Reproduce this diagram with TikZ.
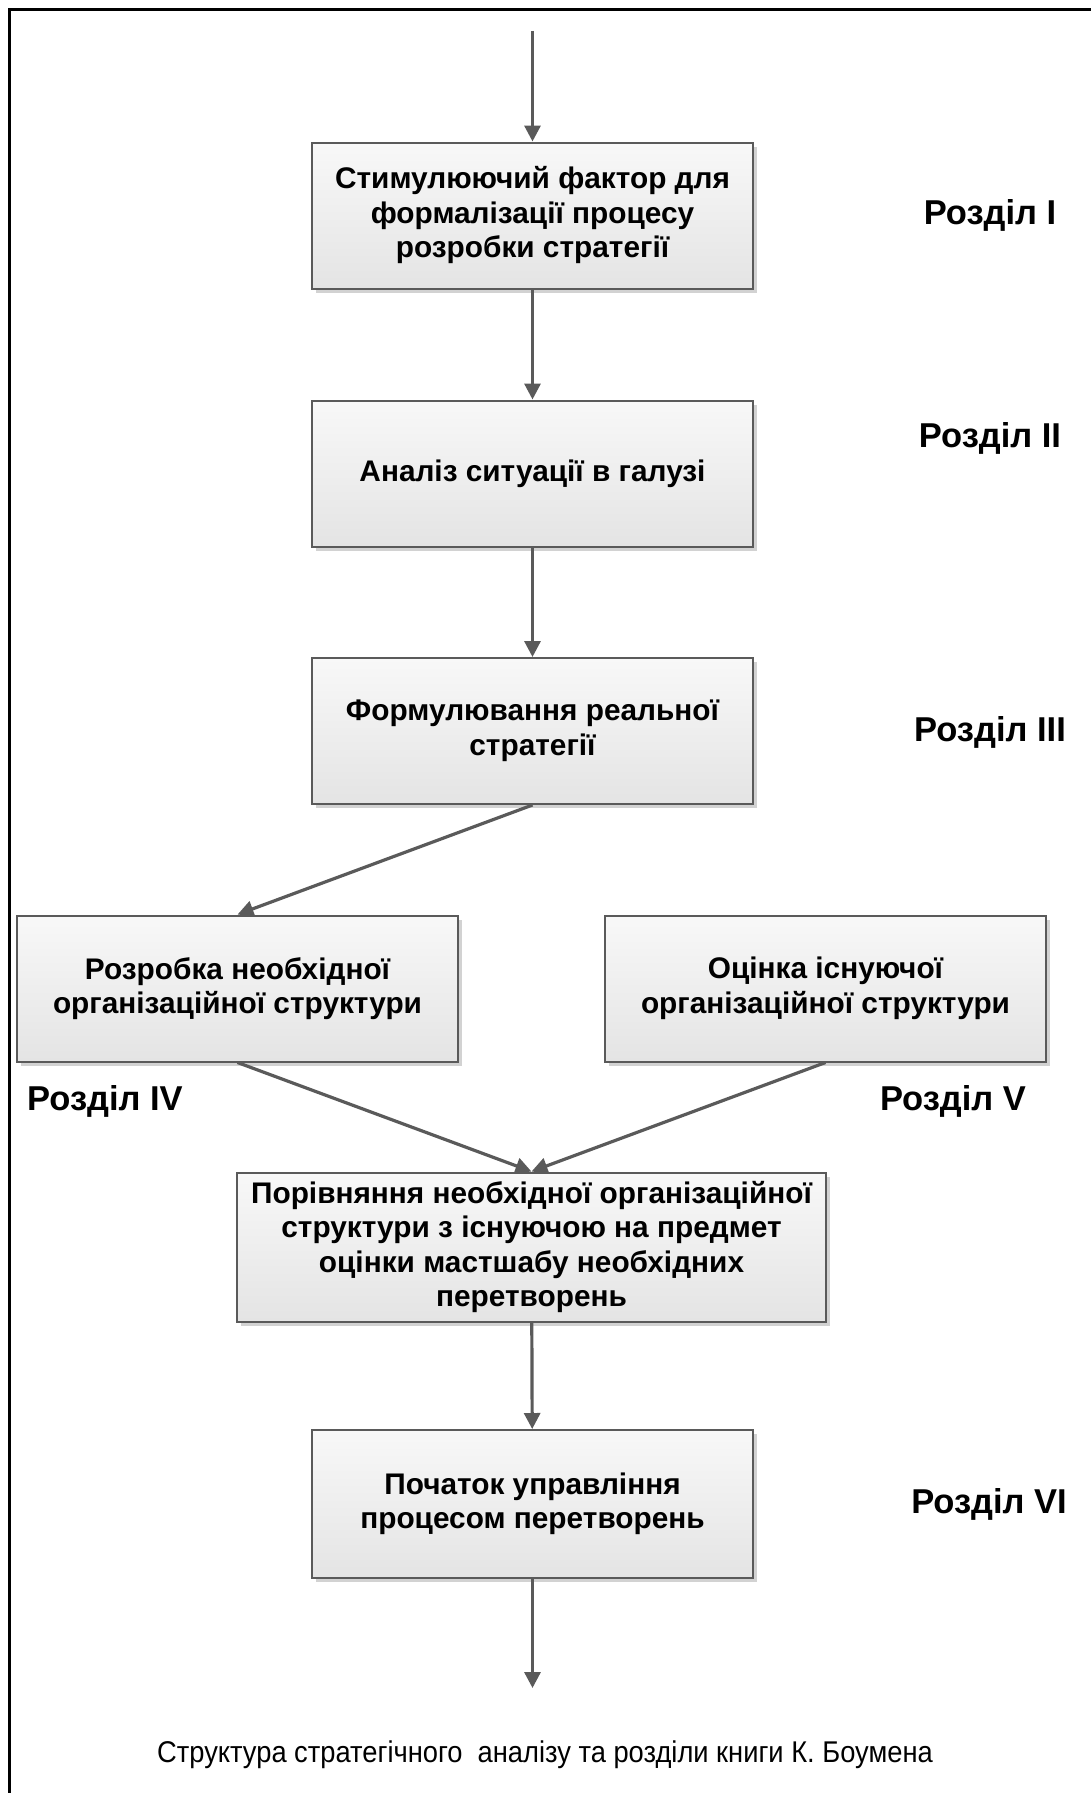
\documentclass[tikz,border=0pt]{standalone}
\usepackage{fontspec}
\setmainfont{Liberation Sans}
\usepackage{tikz}
\usetikzlibrary{arrows.meta,shadows}

\definecolor{linegray}{HTML}{5A5A5A}
\definecolor{boxtop}{HTML}{F8F8F8}
\definecolor{boxbottom}{HTML}{E4E4E4}
\definecolor{shadowgray}{HTML}{D2D2D2}

\begin{document}
\begin{tikzpicture}[x=1pt,y=-1pt,
  stage/.style={draw=linegray, line width=2pt, top color=boxtop, bottom color=boxbottom,
    drop shadow={shadow xshift=4pt, shadow yshift=-4pt, fill=shadowgray, opacity=1},
    minimum width=441pt, minimum height=146pt, align=center, inner sep=0pt,
    font=\fontsize{29.8}{34.5}\selectfont\bfseries},
  part/.style={font=\fontsize{34.5}{38}\selectfont\bfseries},
  flow/.style={draw=linegray, line width=3.2pt, -{Triangle[length=16pt,width=16pt]}}]
\useasboundingbox (0,0) rectangle (1091,1793);
% frame
\draw [line width=3pt] (9,1793) -- (9,10) -- (1091,10);

\node [stage] (s1) at (532.5,215.5) {Стимулюючий фактор для\\формалізації процесу\\розробки стратегії};
\node [stage] (s2) at (532.5,473.5) {Аналіз ситуації в галузі};
\node [stage] (s3) at (532.5,731) {Формулювання реальної\\стратегії};
\node [stage] (s4) at (237.5,988.5) {Розробка необхідної\\організаційної структури};
\node [stage] (s5) at (825.5,988.5) {Оцінка існуючої\\організаційної структури};
\node [stage, minimum width=589pt, minimum height=149pt] (s6) at (531.5,1247)
  {Порівняння необхідної організаційної\\структури з існуючою на предмет\\оцінки мастшабу необхідних\\перетворень};
\node [stage, minimum height=148pt] (s7) at (532.5,1504) {Початок управління\\процесом перетворень};

\node [part] (p1) at (990,215) {Розділ I};
\node [part] (p2) at (990,438) {Розділ II};
\node [part] (p3) at (990,732) {Розділ III};
\node [part] (p4) at (105,1101) {Розділ IV};
\node [part] (p5) at (953,1101) {Розділ V};
\node [part] (p6) at (989,1504) {Розділ VI};

\coordinate (in) at (532.5,31);
\coordinate (out) at (532.5,1688);
\draw [flow] (in) -- (s1);
\draw [flow] (s1) -- (s2);
\draw [flow] (s2) -- (s3);
\draw [flow] (s3.south) -- (s4.north);
\draw [flow] (s4.south) -- (s6.north);
\draw [flow] (s5.south) -- (s6.north);
\draw [flow] (s6) -- (s7);
\draw [flow] (s7) -- (out);

\node [font=\fontsize{30}{34}\selectfont] (cap) at (545,1755) {\scalebox{0.91}[1]{Структура стратегічного\ \ аналізу та розділи книги К. Боумена}};
\end{tikzpicture}
\end{document}
